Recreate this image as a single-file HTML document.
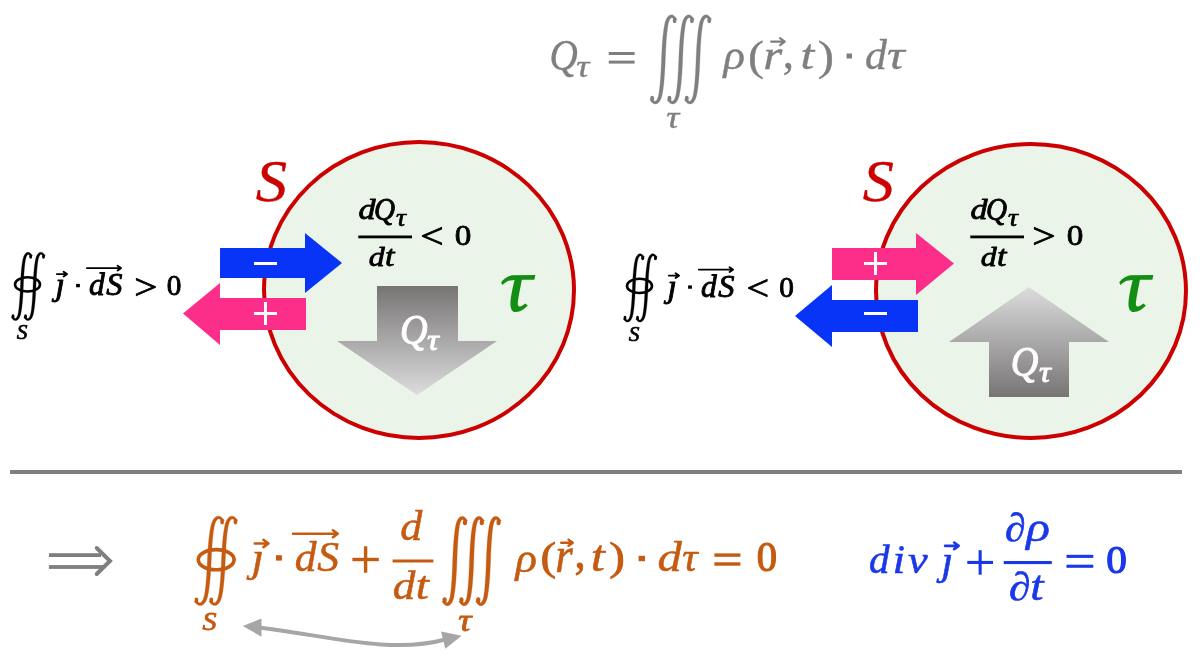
<!DOCTYPE html>
<html><head><meta charset="utf-8"><title>Charge conservation</title>
<style>
html,body{margin:0;padding:0;background:#ffffff;}
body{width:1200px;height:666px;overflow:hidden;}
svg{display:block;will-change:transform;font-family:"Liberation Serif",serif;}
</style></head><body>
<svg width="1200" height="666" viewBox="0 0 1200 666">
<rect x="0" y="0" width="1200" height="666" fill="#ffffff"/>
<text transform="matrix(0.3915 0 0 0.4350 549.52 70.25)" font-size="100" font-style="italic" font-weight="normal" fill="#7f7f7f" stroke="#7f7f7f" stroke-width="0.968" stroke-linejoin="round">Q</text>
<text transform="matrix(0.3680 0 0 0.3200 576.20 77.39)" font-size="100" font-style="italic" font-weight="normal" fill="#7f7f7f" stroke="#7f7f7f" stroke-width="1.163" stroke-linejoin="round">τ</text>
<rect x="608.75" y="52" width="25.85" height="3.00" fill="#7f7f7f"/>
<rect x="608.75" y="60.6" width="25.85" height="3.00" fill="#7f7f7f"/>
<path d="M676.95,19.23 L676.37,18.30 L675.68,17.42 L674.93,16.70 L674.23,16.02 L673.47,15.44 L672.59,15.04 L671.62,14.87 L670.62,14.95 L669.64,15.30 L668.74,15.87 L667.91,16.65 L667.17,17.62 L666.49,18.78 L665.87,20.14 L665.32,21.70 L664.84,23.48 L664.46,25.39 L664.11,27.36 L663.79,29.41 L663.50,31.53 L663.24,33.71 L662.99,35.95 L662.77,38.23 L662.57,40.55 L662.39,42.90 L662.22,45.27 L662.07,47.66 L661.93,50.04 L661.81,52.42 L661.70,54.78 L661.59,57.12 L661.50,59.42 L661.41,61.72 L661.31,64.05 L661.21,66.40 L661.10,68.76 L660.98,71.13 L660.85,73.49 L660.70,75.84 L660.55,78.16 L660.38,80.46 L660.19,82.71 L659.98,84.91 L659.76,87.05 L659.51,89.12 L659.25,91.11 L658.96,93.02 L658.66,94.78 L658.28,96.27 L657.87,97.56 L657.42,98.63 L656.97,99.50 L656.52,100.16 L656.10,100.63 L655.73,100.93 L655.42,101.11 L655.14,101.19 L654.87,101.20 L654.55,101.13 L654.18,100.94 L653.81,100.57 L653.57,99.97 L653.36,99.26 L653.17,98.36 L649.85,99.77 L650.43,100.70 L651.13,101.57 L651.88,102.28 L652.59,102.94 L653.37,103.49 L654.26,103.86 L655.23,103.99 L656.22,103.88 L657.18,103.51 L658.07,102.93 L658.88,102.16 L659.63,101.21 L660.31,100.07 L660.92,98.75 L661.47,97.25 L661.96,95.52 L662.34,93.61 L662.69,91.64 L663.01,89.59 L663.30,87.47 L663.56,85.29 L663.81,83.05 L664.03,80.77 L664.23,78.45 L664.41,76.10 L664.58,73.73 L664.73,71.34 L664.87,68.96 L664.99,66.58 L665.10,64.22 L665.21,61.88 L665.30,59.58 L665.39,57.28 L665.49,54.95 L665.59,52.60 L665.70,50.24 L665.82,47.87 L665.95,45.51 L666.10,43.16 L666.25,40.84 L666.42,38.54 L666.61,36.29 L666.82,34.09 L667.04,31.95 L667.29,29.88 L667.55,27.89 L667.84,25.98 L668.14,24.21 L668.52,22.64 L668.94,21.30 L669.38,20.19 L669.84,19.31 L670.28,18.65 L670.69,18.19 L671.05,17.90 L671.34,17.74 L671.60,17.67 L671.88,17.67 L672.21,17.76 L672.59,17.98 L672.98,18.37 L673.23,19.00 L673.43,19.73 L673.63,20.64 Z" fill="#7f7f7f" stroke="#7f7f7f" stroke-width="0.3" stroke-linejoin="round"/>
<ellipse cx="674.62" cy="20.69" rx="1.90" ry="2.47" fill="#7f7f7f"/>
<ellipse cx="652.17" cy="98.31" rx="1.90" ry="2.47" fill="#7f7f7f"/>
<path d="M694.25,19.23 L693.67,18.30 L692.98,17.42 L692.23,16.70 L691.53,16.02 L690.77,15.44 L689.89,15.04 L688.92,14.87 L687.92,14.95 L686.94,15.30 L686.04,15.87 L685.21,16.65 L684.47,17.62 L683.79,18.78 L683.17,20.14 L682.62,21.70 L682.14,23.48 L681.76,25.39 L681.41,27.36 L681.09,29.41 L680.80,31.53 L680.54,33.71 L680.29,35.95 L680.07,38.23 L679.87,40.55 L679.69,42.90 L679.52,45.27 L679.37,47.66 L679.23,50.04 L679.11,52.42 L679.00,54.78 L678.89,57.12 L678.80,59.42 L678.71,61.72 L678.61,64.05 L678.51,66.40 L678.40,68.76 L678.28,71.13 L678.15,73.49 L678.00,75.84 L677.85,78.16 L677.68,80.46 L677.49,82.71 L677.28,84.91 L677.06,87.05 L676.81,89.12 L676.55,91.11 L676.26,93.02 L675.96,94.78 L675.58,96.27 L675.17,97.56 L674.72,98.63 L674.27,99.50 L673.82,100.16 L673.40,100.63 L673.03,100.93 L672.72,101.11 L672.44,101.19 L672.17,101.20 L671.85,101.13 L671.48,100.94 L671.11,100.57 L670.87,99.97 L670.66,99.26 L670.47,98.36 L667.15,99.77 L667.73,100.70 L668.43,101.57 L669.18,102.28 L669.89,102.94 L670.67,103.49 L671.56,103.86 L672.53,103.99 L673.52,103.88 L674.48,103.51 L675.37,102.93 L676.18,102.16 L676.93,101.21 L677.61,100.07 L678.22,98.75 L678.77,97.25 L679.26,95.52 L679.64,93.61 L679.99,91.64 L680.31,89.59 L680.60,87.47 L680.86,85.29 L681.11,83.05 L681.33,80.77 L681.53,78.45 L681.71,76.10 L681.88,73.73 L682.03,71.34 L682.17,68.96 L682.29,66.58 L682.40,64.22 L682.51,61.88 L682.60,59.58 L682.69,57.28 L682.79,54.95 L682.89,52.60 L683.00,50.24 L683.12,47.87 L683.25,45.51 L683.40,43.16 L683.55,40.84 L683.72,38.54 L683.91,36.29 L684.12,34.09 L684.34,31.95 L684.59,29.88 L684.85,27.89 L685.14,25.98 L685.44,24.21 L685.82,22.64 L686.24,21.30 L686.68,20.19 L687.14,19.31 L687.58,18.65 L687.99,18.19 L688.35,17.90 L688.64,17.74 L688.90,17.67 L689.18,17.67 L689.51,17.76 L689.89,17.98 L690.28,18.37 L690.53,19.00 L690.73,19.73 L690.93,20.64 Z" fill="#7f7f7f" stroke="#7f7f7f" stroke-width="0.3" stroke-linejoin="round"/>
<ellipse cx="691.92" cy="20.69" rx="1.90" ry="2.47" fill="#7f7f7f"/>
<ellipse cx="669.47" cy="98.31" rx="1.90" ry="2.47" fill="#7f7f7f"/>
<path d="M711.55,19.23 L710.97,18.30 L710.28,17.42 L709.53,16.70 L708.83,16.02 L708.07,15.44 L707.19,15.04 L706.22,14.87 L705.22,14.95 L704.24,15.30 L703.34,15.87 L702.51,16.65 L701.77,17.62 L701.09,18.78 L700.47,20.14 L699.92,21.70 L699.44,23.48 L699.06,25.39 L698.71,27.36 L698.39,29.41 L698.10,31.53 L697.84,33.71 L697.59,35.95 L697.37,38.23 L697.17,40.55 L696.99,42.90 L696.82,45.27 L696.67,47.66 L696.53,50.04 L696.41,52.42 L696.30,54.78 L696.19,57.12 L696.10,59.42 L696.01,61.72 L695.91,64.05 L695.81,66.40 L695.70,68.76 L695.58,71.13 L695.45,73.49 L695.30,75.84 L695.15,78.16 L694.98,80.46 L694.79,82.71 L694.58,84.91 L694.36,87.05 L694.11,89.12 L693.85,91.11 L693.56,93.02 L693.26,94.78 L692.88,96.27 L692.47,97.56 L692.02,98.63 L691.57,99.50 L691.12,100.16 L690.70,100.63 L690.33,100.93 L690.02,101.11 L689.74,101.19 L689.47,101.20 L689.15,101.13 L688.78,100.94 L688.41,100.57 L688.17,99.97 L687.96,99.26 L687.77,98.36 L684.45,99.77 L685.03,100.70 L685.73,101.57 L686.48,102.28 L687.19,102.94 L687.97,103.49 L688.86,103.86 L689.83,103.99 L690.82,103.88 L691.78,103.51 L692.67,102.93 L693.48,102.16 L694.23,101.21 L694.91,100.07 L695.52,98.75 L696.07,97.25 L696.56,95.52 L696.94,93.61 L697.29,91.64 L697.61,89.59 L697.90,87.47 L698.16,85.29 L698.41,83.05 L698.63,80.77 L698.83,78.45 L699.01,76.10 L699.18,73.73 L699.33,71.34 L699.47,68.96 L699.59,66.58 L699.70,64.22 L699.81,61.88 L699.90,59.58 L699.99,57.28 L700.09,54.95 L700.19,52.60 L700.30,50.24 L700.42,47.87 L700.55,45.51 L700.70,43.16 L700.85,40.84 L701.02,38.54 L701.21,36.29 L701.42,34.09 L701.64,31.95 L701.89,29.88 L702.15,27.89 L702.44,25.98 L702.74,24.21 L703.12,22.64 L703.54,21.30 L703.98,20.19 L704.44,19.31 L704.88,18.65 L705.29,18.19 L705.65,17.90 L705.94,17.74 L706.20,17.67 L706.48,17.67 L706.81,17.76 L707.19,17.98 L707.58,18.37 L707.83,19.00 L708.03,19.73 L708.23,20.64 Z" fill="#7f7f7f" stroke="#7f7f7f" stroke-width="0.3" stroke-linejoin="round"/>
<ellipse cx="709.23" cy="20.69" rx="1.90" ry="2.47" fill="#7f7f7f"/>
<ellipse cx="686.77" cy="98.31" rx="1.90" ry="2.47" fill="#7f7f7f"/>
<text transform="matrix(0.3655 0 0 0.3179 666.20 128.49)" font-size="100" font-style="italic" font-weight="normal" fill="#7f7f7f" stroke="#7f7f7f" stroke-width="1.171" stroke-linejoin="round">τ</text>
<text transform="matrix(0.4473 0 0 0.4273 723.44 69.45)" font-size="100" font-style="italic" font-weight="normal" fill="#7f7f7f" stroke="#7f7f7f" stroke-width="0.915" stroke-linejoin="round">ρ</text>
<text transform="matrix(0.4789 0 0 0.4229 748.10 69.55)" font-size="100" font-style="normal" font-weight="normal" fill="#7f7f7f" stroke="#7f7f7f" stroke-width="0.887" stroke-linejoin="round">(</text>
<text transform="matrix(0.4881 0 0 0.4245 763.19 69.40)" font-size="100" font-style="italic" font-weight="normal" fill="#7f7f7f" stroke="#7f7f7f" stroke-width="0.877" stroke-linejoin="round">r</text>
<path d="M771.10,41.62 L783.60,41.62 M780.07,38.10 L784.70,41.62 L780.07,45.15" fill="none" stroke="#7f7f7f" stroke-width="2.2" stroke-linecap="round" stroke-linejoin="round"/>
<text transform="matrix(0.4465 0 0 0.4555 782.70 68.19)" font-size="100" font-style="normal" font-weight="normal" fill="#7f7f7f" stroke="#7f7f7f" stroke-width="0.887" stroke-linejoin="round">,</text>
<text transform="matrix(0.4939 0 0 0.4295 800.56 69.38)" font-size="100" font-style="italic" font-weight="normal" fill="#7f7f7f" stroke="#7f7f7f" stroke-width="0.866" stroke-linejoin="round">t</text>
<text transform="matrix(0.4896 0 0 0.4257 817.64 69.74)" font-size="100" font-style="normal" font-weight="normal" fill="#7f7f7f" stroke="#7f7f7f" stroke-width="0.874" stroke-linejoin="round">)</text>
<rect x="846.5" y="53.5" width="5.50" height="5.00" fill="#7f7f7f"/>
<text transform="matrix(0.4363 0 0 0.4204 864.88 69.37)" font-size="100" font-style="italic" font-weight="normal" fill="#7f7f7f" stroke="#7f7f7f" stroke-width="0.934" stroke-linejoin="round">d</text>
<text transform="matrix(0.4931 0 0 0.4288 886.89 69.38)" font-size="100" font-style="italic" font-weight="normal" fill="#7f7f7f" stroke="#7f7f7f" stroke-width="0.868" stroke-linejoin="round">τ</text>
<ellipse cx="419" cy="290" rx="155" ry="148" fill="#ebf4e8" stroke="#cc0000" stroke-width="4"/>
<ellipse cx="1031" cy="291" rx="155" ry="147" fill="#ebf4e8" stroke="#cc0000" stroke-width="4"/>
<text transform="matrix(0.6248 0 0 0.5879 255.67 201.33)" font-size="100" font-style="italic" font-weight="normal" fill="#cc0000" stroke="#cc0000" stroke-width="0.660" stroke-linejoin="round">S</text>
<text transform="matrix(0.6227 0 0 0.5879 862.77 201.33)" font-size="100" font-style="italic" font-weight="normal" fill="#cc0000" stroke="#cc0000" stroke-width="0.661" stroke-linejoin="round">S</text>
<polygon points="220,248 305,248 305,233 342,263 305,293 305,278 220,278" fill="#0834f8"/>
<rect x="254" y="262" width="23.00" height="3.00" fill="#ffffff"/>
<polygon points="306,298 220,298 220,283 183,313.5 220,345 220,330 306,330" fill="#fd2d8a"/>
<rect x="254" y="312" width="23.00" height="3.00" fill="#ffffff"/>
<rect x="264" y="302" width="3.00" height="23.00" fill="#ffffff"/>
<polygon points="832,248 916,248 916,233 954,263.5 916,295 916,280 832,280" fill="#fd2d8a"/>
<rect x="864" y="262" width="23.00" height="3.00" fill="#ffffff"/>
<rect x="874" y="252" width="3.00" height="23.00" fill="#ffffff"/>
<polygon points="918,300 832,300 832,285 795,316 832,347 832,332 918,332" fill="#0834f8"/>
<rect x="864" y="312" width="23.00" height="3.00" fill="#ffffff"/>
<defs><linearGradient id="gd" x1="0" y1="0" x2="0" y2="1"><stop offset="0" stop-color="#777474"/><stop offset="1" stop-color="#dcdcdc"/></linearGradient><linearGradient id="gu" x1="0" y1="0" x2="0" y2="1"><stop offset="0" stop-color="#dcdcdc"/><stop offset="1" stop-color="#777474"/></linearGradient></defs>
<polygon points="377,286 458,286 458,341 497,341 417,395 337,341 377,341" fill="url(#gd)"/>
<polygon points="1029,287 1109,342 1069,342 1069,397 989,397 989,342 949,342" fill="url(#gu)"/>
<text transform="matrix(0.3822 0 0 0.4246 400.10 343.52)" font-size="100" font-style="italic" font-weight="normal" fill="#ffffff" stroke="#ffffff" stroke-width="2.479" stroke-linejoin="round">Q</text>
<text transform="matrix(0.3312 0 0 0.2880 427.06 350.12)" font-size="100" font-style="italic" font-weight="normal" fill="#ffffff" stroke="#ffffff" stroke-width="3.230" stroke-linejoin="round">τ</text>
<text transform="matrix(0.3822 0 0 0.4246 1010.75 375.62)" font-size="100" font-style="italic" font-weight="normal" fill="#ffffff" stroke="#ffffff" stroke-width="2.479" stroke-linejoin="round">Q</text>
<text transform="matrix(0.3312 0 0 0.2880 1039.11 382.22)" font-size="100" font-style="italic" font-weight="normal" fill="#ffffff" stroke="#ffffff" stroke-width="3.230" stroke-linejoin="round">τ</text>
<path d="M501.1,282.4 C503.5,279 507,276.5 511.8,275.2 L535.3,275 L534.3,279.7 L521.8,279.7 C520.5,287 518.5,296 517.8,302.5 C517.6,305.5 518.5,306.8 519.6,306.6 C521.5,306.3 523.5,304.8 525.3,303.5 L527.7,305.6 C525,308.8 520,312.3 515.3,312.1 C511.8,311.9 510.2,308 510.4,303.2 C510.6,297 512.8,287 514.6,280 L508.4,280.7 C506.5,281.5 504.8,283 502.5,284.9 Z" fill="#128e12"/>
<path d="M501.1,282.4 C503.5,279 507,276.5 511.8,275.2 L535.3,275 L534.3,279.7 L521.8,279.7 C520.5,287 518.5,296 517.8,302.5 C517.6,305.5 518.5,306.8 519.6,306.6 C521.5,306.3 523.5,304.8 525.3,303.5 L527.7,305.6 C525,308.8 520,312.3 515.3,312.1 C511.8,311.9 510.2,308 510.4,303.2 C510.6,297 512.8,287 514.6,280 L508.4,280.7 C506.5,281.5 504.8,283 502.5,284.9 Z" fill="#128e12" transform="translate(618.1 0)"/>
<text transform="matrix(0.3405 0 0 0.2961 358.48 219.27)" font-size="100" font-style="italic" font-weight="normal" fill="#000000" stroke="#000000" stroke-width="2.670" stroke-linejoin="round">d</text>
<text transform="matrix(0.2910 0 0 0.3233 374.06 220.13)" font-size="100" font-style="italic" font-weight="normal" fill="#000000" stroke="#000000" stroke-width="2.767" stroke-linejoin="round">Q</text>
<text transform="matrix(0.2797 0 0 0.2432 395.96 226.41)" font-size="100" font-style="italic" font-weight="normal" fill="#000000" stroke="#000000" stroke-width="2.677" stroke-linejoin="round">τ</text>
<rect x="358.3" y="235.5" width="53.70" height="2.80" fill="#000000"/>
<text transform="matrix(0.3187 0 0 0.2777 368.66 265.89)" font-size="100" font-style="italic" font-weight="normal" fill="#000000" stroke="#000000" stroke-width="2.850" stroke-linejoin="round">d</text>
<text transform="matrix(0.3423 0 0 0.2977 385.05 265.88)" font-size="100" font-style="italic" font-weight="normal" fill="#000000" stroke="#000000" stroke-width="2.656" stroke-linejoin="round">t</text>
<text transform="matrix(0.4148 0 0 0.3628 420.18 248.24)" font-size="100" font-style="normal" font-weight="normal" fill="#000000" stroke="#000000" stroke-width="2.315" stroke-linejoin="round">&lt;</text>
<text transform="matrix(0.3315 0 0 0.3016 454.66 244.98)" font-size="100" font-style="normal" font-weight="normal" fill="#000000" stroke="#000000" stroke-width="2.685" stroke-linejoin="round">0</text>
<text transform="matrix(0.3405 0 0 0.2961 970.48 219.27)" font-size="100" font-style="italic" font-weight="normal" fill="#000000" stroke="#000000" stroke-width="2.670" stroke-linejoin="round">d</text>
<text transform="matrix(0.2910 0 0 0.3233 986.06 220.13)" font-size="100" font-style="italic" font-weight="normal" fill="#000000" stroke="#000000" stroke-width="2.767" stroke-linejoin="round">Q</text>
<text transform="matrix(0.2797 0 0 0.2432 1007.96 226.41)" font-size="100" font-style="italic" font-weight="normal" fill="#000000" stroke="#000000" stroke-width="2.677" stroke-linejoin="round">τ</text>
<rect x="970.3" y="235.5" width="53.70" height="2.80" fill="#000000"/>
<text transform="matrix(0.3187 0 0 0.2777 980.66 265.89)" font-size="100" font-style="italic" font-weight="normal" fill="#000000" stroke="#000000" stroke-width="2.850" stroke-linejoin="round">d</text>
<text transform="matrix(0.3423 0 0 0.2977 997.05 265.88)" font-size="100" font-style="italic" font-weight="normal" fill="#000000" stroke="#000000" stroke-width="2.656" stroke-linejoin="round">t</text>
<text transform="matrix(0.4148 0 0 0.3628 1032.14 248.24)" font-size="100" font-style="normal" font-weight="normal" fill="#000000" stroke="#000000" stroke-width="2.315" stroke-linejoin="round">&gt;</text>
<text transform="matrix(0.3315 0 0 0.3016 1066.66 244.98)" font-size="100" font-style="normal" font-weight="normal" fill="#000000" stroke="#000000" stroke-width="2.685" stroke-linejoin="round">0</text>
<path d="M32.46,255.61 L32.00,254.90 L31.47,254.23 L30.88,253.68 L30.34,253.16 L29.74,252.72 L29.06,252.41 L28.31,252.28 L27.54,252.34 L26.78,252.60 L26.08,253.04 L25.43,253.64 L24.85,254.38 L24.31,255.27 L23.83,256.31 L23.40,257.51 L23.02,258.88 L22.72,260.34 L22.45,261.85 L22.20,263.42 L21.97,265.05 L21.76,266.72 L21.57,268.44 L21.40,270.19 L21.24,271.97 L21.09,273.77 L20.96,275.59 L20.85,277.42 L20.74,279.25 L20.64,281.07 L20.55,282.88 L20.47,284.67 L20.40,286.44 L20.33,288.20 L20.25,289.99 L20.17,291.79 L20.08,293.60 L19.99,295.42 L19.89,297.23 L19.77,299.03 L19.65,300.81 L19.51,302.57 L19.37,304.29 L19.20,305.98 L19.03,307.62 L18.84,309.21 L18.63,310.73 L18.40,312.19 L18.16,313.55 L17.87,314.69 L17.54,315.68 L17.19,316.50 L16.83,317.16 L16.48,317.67 L16.15,318.03 L15.85,318.27 L15.59,318.41 L15.36,318.47 L15.13,318.48 L14.87,318.42 L14.58,318.27 L14.28,317.99 L14.09,317.53 L13.92,316.98 L13.77,316.29 L11.24,317.39 L11.70,318.10 L12.24,318.77 L12.83,319.31 L13.38,319.81 L13.99,320.23 L14.68,320.51 L15.43,320.61 L16.19,320.52 L16.93,320.25 L17.63,319.81 L18.26,319.22 L18.85,318.49 L19.38,317.62 L19.86,316.61 L20.30,315.45 L20.68,314.13 L20.98,312.66 L21.25,311.15 L21.50,309.58 L21.73,307.95 L21.94,306.28 L22.13,304.56 L22.30,302.81 L22.46,301.03 L22.61,299.23 L22.74,297.41 L22.85,295.58 L22.96,293.75 L23.06,291.93 L23.15,290.12 L23.23,288.33 L23.30,286.56 L23.37,284.80 L23.45,283.01 L23.53,281.21 L23.62,279.40 L23.71,277.58 L23.81,275.77 L23.93,273.97 L24.05,272.19 L24.19,270.43 L24.33,268.71 L24.50,267.02 L24.67,265.38 L24.86,263.79 L25.07,262.27 L25.30,260.81 L25.54,259.45 L25.84,258.24 L26.17,257.21 L26.51,256.37 L26.87,255.69 L27.22,255.18 L27.55,254.83 L27.83,254.60 L28.08,254.48 L28.30,254.42 L28.53,254.42 L28.79,254.50 L29.10,254.66 L29.41,254.97 L29.61,255.45 L29.77,256.01 L29.93,256.71 Z" fill="#000000" stroke="#000000" stroke-width="0.3" stroke-linejoin="round"/>
<ellipse cx="30.69" cy="256.74" rx="1.45" ry="1.89" fill="#000000"/>
<ellipse cx="13.01" cy="316.26" rx="1.45" ry="1.89" fill="#000000"/>
<path d="M45.26,255.61 L44.80,254.89 L44.25,254.22 L43.66,253.67 L43.11,253.15 L42.50,252.71 L41.82,252.41 L41.07,252.28 L40.29,252.34 L39.53,252.60 L38.82,253.04 L38.16,253.63 L37.57,254.37 L37.03,255.26 L36.53,256.30 L36.10,257.50 L35.71,258.87 L35.41,260.34 L35.13,261.85 L34.88,263.42 L34.65,265.05 L34.43,266.72 L34.24,268.44 L34.06,270.19 L33.90,271.97 L33.76,273.77 L33.62,275.59 L33.50,277.42 L33.39,279.24 L33.30,281.07 L33.21,282.88 L33.13,284.67 L33.05,286.44 L32.98,288.20 L32.90,289.99 L32.82,291.79 L32.73,293.60 L32.63,295.42 L32.53,297.23 L32.41,299.03 L32.29,300.81 L32.15,302.56 L32.00,304.29 L31.83,305.98 L31.65,307.62 L31.46,309.20 L31.25,310.73 L31.02,312.19 L30.77,313.54 L30.47,314.69 L30.14,315.67 L29.79,316.49 L29.42,317.15 L29.07,317.66 L28.73,318.03 L28.42,318.27 L28.15,318.41 L27.91,318.47 L27.67,318.48 L27.40,318.42 L27.09,318.27 L26.79,317.98 L26.59,317.52 L26.42,316.98 L26.26,316.28 L23.75,317.40 L24.21,318.11 L24.75,318.77 L25.35,319.31 L25.91,319.82 L26.53,320.24 L27.22,320.51 L27.97,320.61 L28.74,320.52 L29.49,320.25 L30.19,319.81 L30.84,319.22 L31.43,318.50 L31.97,317.63 L32.46,316.61 L32.90,315.45 L33.29,314.13 L33.59,312.66 L33.87,311.15 L34.12,309.58 L34.35,307.95 L34.57,306.28 L34.76,304.56 L34.94,302.81 L35.10,301.03 L35.24,299.23 L35.38,297.41 L35.50,295.58 L35.61,293.76 L35.70,291.93 L35.79,290.12 L35.87,288.33 L35.95,286.56 L36.02,284.80 L36.10,283.01 L36.18,281.21 L36.27,279.40 L36.37,277.58 L36.47,275.77 L36.59,273.97 L36.71,272.19 L36.85,270.44 L37.00,268.71 L37.17,267.02 L37.35,265.38 L37.54,263.80 L37.75,262.27 L37.98,260.81 L38.23,259.45 L38.53,258.25 L38.86,257.22 L39.22,256.37 L39.58,255.70 L39.94,255.19 L40.27,254.83 L40.56,254.60 L40.82,254.48 L41.05,254.42 L41.29,254.42 L41.57,254.50 L41.89,254.67 L42.20,254.98 L42.40,255.46 L42.57,256.02 L42.73,256.72 Z" fill="#000000" stroke="#000000" stroke-width="0.3" stroke-linejoin="round"/>
<ellipse cx="43.49" cy="256.74" rx="1.45" ry="1.89" fill="#000000"/>
<ellipse cx="25.51" cy="316.26" rx="1.45" ry="1.89" fill="#000000"/>
<ellipse cx="27.5" cy="284.4" rx="12.5" ry="7.1" fill="none" stroke="#000000" stroke-width="2.6"/>
<text transform="matrix(0.2139 0 0 0.2039 16.80 339.05)" font-size="100" font-style="italic" font-weight="normal" fill="#000000" stroke="#000000" stroke-width="3.351" stroke-linejoin="round">S</text>
<text transform="matrix(0.3353 0 0 0.3155 55.44 295.43)" font-size="100" font-style="italic" font-weight="normal" fill="#000000" stroke="#000000" stroke-width="2.766" stroke-linejoin="round">ȷ</text>
<path d="M56.85,274.12 L66.00,274.12 M63.58,271.70 L66.95,274.12 L63.58,276.55" fill="none" stroke="#000000" stroke-width="1.9" stroke-linecap="round" stroke-linejoin="round"/>
<rect x="76.1" y="283.9" width="3.80" height="3.35" fill="#000000"/>
<text transform="matrix(0.3156 0 0 0.3125 89.09 295.13)" font-size="100" font-style="italic" font-weight="normal" fill="#000000" stroke="#000000" stroke-width="2.866" stroke-linejoin="round">d</text>
<text transform="matrix(0.3240 0 0 0.3215 106.17 295.49)" font-size="100" font-style="italic" font-weight="normal" fill="#000000" stroke="#000000" stroke-width="2.788" stroke-linejoin="round">S</text>
<path d="M86.85,268.12 L120.00,268.12 M117.58,265.70 L120.95,268.12 L117.58,270.55" fill="none" stroke="#000000" stroke-width="1.9" stroke-linecap="round" stroke-linejoin="round"/>
<text transform="matrix(0.4105 0 0 0.3648 134.17 298.86)" font-size="100" font-style="normal" font-weight="normal" fill="#000000" stroke="#000000" stroke-width="2.322" stroke-linejoin="round">&gt;</text>
<text transform="matrix(0.2926 0 0 0.2979 166.84 295.26)" font-size="100" font-style="normal" font-weight="normal" fill="#000000" stroke="#000000" stroke-width="3.049" stroke-linejoin="round">0</text>
<path d="M644.46,257.11 L644.00,256.40 L643.47,255.73 L642.88,255.18 L642.34,254.66 L641.74,254.22 L641.06,253.91 L640.31,253.78 L639.54,253.84 L638.78,254.10 L638.08,254.54 L637.43,255.14 L636.85,255.88 L636.31,256.77 L635.83,257.81 L635.40,259.01 L635.02,260.38 L634.72,261.84 L634.45,263.35 L634.20,264.92 L633.97,266.55 L633.76,268.22 L633.57,269.94 L633.40,271.69 L633.24,273.47 L633.09,275.27 L632.96,277.09 L632.85,278.92 L632.74,280.75 L632.64,282.57 L632.55,284.38 L632.47,286.17 L632.40,287.94 L632.33,289.70 L632.25,291.49 L632.17,293.29 L632.08,295.10 L631.99,296.92 L631.89,298.73 L631.77,300.53 L631.65,302.31 L631.51,304.07 L631.37,305.79 L631.20,307.48 L631.03,309.12 L630.84,310.71 L630.63,312.23 L630.40,313.69 L630.16,315.05 L629.87,316.19 L629.54,317.18 L629.19,318.00 L628.83,318.66 L628.48,319.17 L628.15,319.53 L627.85,319.77 L627.59,319.91 L627.36,319.97 L627.13,319.98 L626.87,319.92 L626.58,319.77 L626.28,319.49 L626.09,319.03 L625.92,318.48 L625.77,317.79 L623.24,318.89 L623.70,319.60 L624.24,320.27 L624.83,320.81 L625.38,321.31 L625.99,321.73 L626.68,322.01 L627.43,322.11 L628.19,322.02 L628.93,321.75 L629.63,321.31 L630.26,320.72 L630.85,319.99 L631.38,319.12 L631.86,318.11 L632.30,316.95 L632.68,315.63 L632.98,314.16 L633.25,312.65 L633.50,311.08 L633.73,309.45 L633.94,307.78 L634.13,306.06 L634.30,304.31 L634.46,302.53 L634.61,300.73 L634.74,298.91 L634.85,297.08 L634.96,295.25 L635.06,293.43 L635.15,291.62 L635.23,289.83 L635.30,288.06 L635.37,286.30 L635.45,284.51 L635.53,282.71 L635.62,280.90 L635.71,279.08 L635.81,277.27 L635.93,275.47 L636.05,273.69 L636.19,271.93 L636.33,270.21 L636.50,268.52 L636.67,266.88 L636.86,265.29 L637.07,263.77 L637.30,262.31 L637.54,260.95 L637.84,259.74 L638.17,258.71 L638.51,257.87 L638.87,257.19 L639.22,256.68 L639.55,256.33 L639.83,256.10 L640.08,255.98 L640.30,255.92 L640.53,255.92 L640.79,256.00 L641.10,256.16 L641.41,256.47 L641.61,256.95 L641.77,257.51 L641.93,258.21 Z" fill="#000000" stroke="#000000" stroke-width="0.3" stroke-linejoin="round"/>
<ellipse cx="642.69" cy="258.24" rx="1.45" ry="1.89" fill="#000000"/>
<ellipse cx="625.01" cy="317.76" rx="1.45" ry="1.89" fill="#000000"/>
<path d="M657.26,257.11 L656.80,256.39 L656.25,255.72 L655.66,255.17 L655.11,254.65 L654.50,254.21 L653.82,253.91 L653.07,253.78 L652.29,253.84 L651.53,254.10 L650.82,254.54 L650.16,255.13 L649.57,255.87 L649.03,256.76 L648.53,257.80 L648.10,259.00 L647.71,260.37 L647.41,261.84 L647.13,263.35 L646.88,264.92 L646.65,266.55 L646.43,268.22 L646.24,269.94 L646.06,271.69 L645.90,273.47 L645.76,275.27 L645.62,277.09 L645.50,278.92 L645.39,280.74 L645.30,282.57 L645.21,284.38 L645.13,286.17 L645.05,287.94 L644.98,289.70 L644.90,291.49 L644.82,293.29 L644.73,295.10 L644.63,296.92 L644.53,298.73 L644.41,300.53 L644.29,302.31 L644.15,304.06 L644.00,305.79 L643.83,307.48 L643.65,309.12 L643.46,310.70 L643.25,312.23 L643.02,313.69 L642.77,315.04 L642.47,316.19 L642.14,317.17 L641.79,317.99 L641.42,318.65 L641.07,319.16 L640.73,319.53 L640.42,319.77 L640.15,319.91 L639.91,319.97 L639.67,319.98 L639.40,319.92 L639.09,319.77 L638.79,319.48 L638.59,319.02 L638.42,318.48 L638.26,317.78 L635.75,318.90 L636.21,319.61 L636.75,320.27 L637.35,320.81 L637.91,321.32 L638.53,321.74 L639.22,322.01 L639.97,322.11 L640.74,322.02 L641.49,321.75 L642.19,321.31 L642.84,320.72 L643.43,320.00 L643.97,319.13 L644.46,318.11 L644.90,316.95 L645.29,315.63 L645.59,314.16 L645.87,312.65 L646.12,311.08 L646.35,309.45 L646.57,307.78 L646.76,306.06 L646.94,304.31 L647.10,302.53 L647.24,300.73 L647.38,298.91 L647.50,297.08 L647.61,295.26 L647.70,293.43 L647.79,291.62 L647.87,289.83 L647.95,288.06 L648.02,286.30 L648.10,284.51 L648.18,282.71 L648.27,280.90 L648.37,279.08 L648.47,277.27 L648.59,275.47 L648.71,273.69 L648.85,271.94 L649.00,270.21 L649.17,268.52 L649.35,266.88 L649.54,265.30 L649.75,263.77 L649.98,262.31 L650.23,260.95 L650.53,259.75 L650.86,258.72 L651.22,257.87 L651.58,257.20 L651.94,256.69 L652.27,256.33 L652.56,256.10 L652.82,255.98 L653.05,255.92 L653.29,255.92 L653.57,256.00 L653.89,256.17 L654.20,256.48 L654.40,256.96 L654.57,257.52 L654.73,258.22 Z" fill="#000000" stroke="#000000" stroke-width="0.3" stroke-linejoin="round"/>
<ellipse cx="655.49" cy="258.24" rx="1.45" ry="1.89" fill="#000000"/>
<ellipse cx="637.51" cy="317.76" rx="1.45" ry="1.89" fill="#000000"/>
<ellipse cx="639.5" cy="285.9" rx="12.5" ry="7.1" fill="none" stroke="#000000" stroke-width="2.6"/>
<text transform="matrix(0.2139 0 0 0.2039 628.80 340.55)" font-size="100" font-style="italic" font-weight="normal" fill="#000000" stroke="#000000" stroke-width="3.351" stroke-linejoin="round">S</text>
<text transform="matrix(0.3353 0 0 0.3155 667.44 296.93)" font-size="100" font-style="italic" font-weight="normal" fill="#000000" stroke="#000000" stroke-width="2.766" stroke-linejoin="round">ȷ</text>
<path d="M668.85,275.62 L678.00,275.62 M675.57,273.20 L678.95,275.62 L675.57,278.05" fill="none" stroke="#000000" stroke-width="1.9" stroke-linecap="round" stroke-linejoin="round"/>
<rect x="688.1" y="285.4" width="3.80" height="3.35" fill="#000000"/>
<text transform="matrix(0.3156 0 0 0.3125 701.09 296.63)" font-size="100" font-style="italic" font-weight="normal" fill="#000000" stroke="#000000" stroke-width="2.866" stroke-linejoin="round">d</text>
<text transform="matrix(0.3240 0 0 0.3215 718.17 296.99)" font-size="100" font-style="italic" font-weight="normal" fill="#000000" stroke="#000000" stroke-width="2.788" stroke-linejoin="round">S</text>
<path d="M698.85,269.62 L732.00,269.62 M729.57,267.20 L732.95,269.62 L729.57,272.05" fill="none" stroke="#000000" stroke-width="1.9" stroke-linecap="round" stroke-linejoin="round"/>
<text transform="matrix(0.3997 0 0 0.3648 746.46 300.36)" font-size="100" font-style="normal" font-weight="normal" fill="#000000" stroke="#000000" stroke-width="2.354" stroke-linejoin="round">&lt;</text>
<text transform="matrix(0.2926 0 0 0.2949 779.34 296.76)" font-size="100" font-style="normal" font-weight="normal" fill="#000000" stroke="#000000" stroke-width="3.064" stroke-linejoin="round">0</text>
<rect x="10" y="470" width="1172.00" height="4.00" fill="#7f7f7f"/>
<rect x="48.9" y="553.2" width="52.10" height="3.80" fill="#7f7f7f"/>
<rect x="48.9" y="565.1" width="54.60" height="3.80" fill="#7f7f7f"/>
<path d="M96.7,548 L110,561 L96.7,574" fill="none" stroke="#7f7f7f" stroke-width="4" stroke-linecap="round" stroke-linejoin="miter"/>
<path d="M224.42,520.47 L223.78,519.54 L223.02,518.66 L222.20,517.95 L221.42,517.28 L220.58,516.71 L219.64,516.33 L218.63,516.17 L217.58,516.24 L216.54,516.56 L215.56,517.12 L214.64,517.89 L213.80,518.86 L213.03,520.02 L212.34,521.39 L211.71,522.97 L211.16,524.77 L210.73,526.69 L210.34,528.67 L209.99,530.72 L209.66,532.85 L209.36,535.05 L209.08,537.29 L208.83,539.59 L208.61,541.92 L208.40,544.28 L208.21,546.66 L208.04,549.05 L207.89,551.45 L207.75,553.83 L207.62,556.20 L207.51,558.55 L207.40,560.86 L207.30,563.17 L207.19,565.51 L207.07,567.86 L206.94,570.23 L206.81,572.61 L206.66,574.98 L206.49,577.33 L206.31,579.66 L206.12,581.96 L205.90,584.21 L205.67,586.42 L205.41,588.56 L205.13,590.64 L204.83,592.64 L204.50,594.54 L204.15,596.31 L203.73,597.80 L203.26,599.08 L202.75,600.15 L202.24,601.01 L201.72,601.68 L201.22,602.17 L200.76,602.50 L200.34,602.69 L199.94,602.79 L199.55,602.79 L199.13,602.70 L198.67,602.49 L198.23,602.11 L197.93,601.49 L197.68,600.78 L197.44,599.87 L194.18,601.43 L194.82,602.36 L195.59,603.23 L196.42,603.93 L197.21,604.58 L198.06,605.12 L199.01,605.46 L200.02,605.59 L201.06,605.49 L202.08,605.14 L203.05,604.58 L203.95,603.82 L204.79,602.87 L205.56,601.73 L206.25,600.40 L206.88,598.88 L207.43,597.14 L207.87,595.21 L208.26,593.23 L208.61,591.18 L208.94,589.05 L209.24,586.85 L209.52,584.61 L209.77,582.31 L209.99,579.98 L210.20,577.62 L210.39,575.24 L210.56,572.85 L210.71,570.45 L210.85,568.07 L210.98,565.70 L211.09,563.35 L211.20,561.04 L211.30,558.73 L211.41,556.39 L211.53,554.04 L211.66,551.67 L211.79,549.29 L211.94,546.92 L212.11,544.57 L212.29,542.24 L212.48,539.94 L212.70,537.69 L212.93,535.48 L213.19,533.34 L213.47,531.26 L213.77,529.26 L214.10,527.36 L214.45,525.58 L214.88,524.01 L215.35,522.68 L215.86,521.57 L216.37,520.69 L216.88,520.02 L217.37,519.55 L217.82,519.23 L218.22,519.05 L218.61,518.97 L219.00,518.98 L219.43,519.09 L219.90,519.33 L220.35,519.74 L220.66,520.37 L220.92,521.11 L221.16,522.02 Z" fill="#c55a11" stroke="#c55a11" stroke-width="0.3" stroke-linejoin="round"/>
<ellipse cx="222.12" cy="522.01" rx="1.90" ry="2.47" fill="#c55a11"/>
<ellipse cx="196.47" cy="599.89" rx="1.90" ry="2.47" fill="#c55a11"/>
<path d="M237.74,520.50 L237.12,519.57 L236.40,518.69 L235.61,517.97 L234.87,517.30 L234.06,516.73 L233.15,516.34 L232.16,516.17 L231.13,516.25 L230.12,516.58 L229.18,517.14 L228.31,517.92 L227.51,518.89 L226.78,520.06 L226.12,521.42 L225.53,522.99 L225.01,524.79 L224.61,526.71 L224.24,528.68 L223.90,530.74 L223.59,532.87 L223.30,535.06 L223.04,537.31 L222.81,539.60 L222.59,541.93 L222.40,544.29 L222.22,546.67 L222.06,549.06 L221.91,551.45 L221.78,553.84 L221.66,556.21 L221.55,558.56 L221.45,560.87 L221.35,563.18 L221.25,565.51 L221.14,567.87 L221.02,570.24 L220.89,572.61 L220.75,574.98 L220.59,577.34 L220.43,579.67 L220.24,581.97 L220.04,584.22 L219.82,586.43 L219.58,588.58 L219.31,590.65 L219.03,592.65 L218.72,594.56 L218.39,596.33 L217.99,597.82 L217.55,599.11 L217.07,600.18 L216.58,601.05 L216.10,601.71 L215.64,602.19 L215.22,602.51 L214.85,602.70 L214.51,602.79 L214.17,602.80 L213.80,602.71 L213.38,602.51 L212.97,602.14 L212.70,601.53 L212.47,600.82 L212.25,599.91 L208.97,601.40 L209.58,602.33 L210.31,603.20 L211.11,603.91 L211.86,604.56 L212.68,605.10 L213.60,605.46 L214.59,605.59 L215.61,605.48 L216.60,605.13 L217.53,604.56 L218.39,603.79 L219.19,602.84 L219.91,601.70 L220.57,600.37 L221.16,598.85 L221.68,597.12 L222.09,595.19 L222.46,593.22 L222.80,591.16 L223.11,589.03 L223.40,586.84 L223.66,584.59 L223.89,582.30 L224.11,579.97 L224.30,577.61 L224.48,575.23 L224.64,572.84 L224.79,570.45 L224.92,568.06 L225.04,565.69 L225.15,563.34 L225.25,561.03 L225.35,558.72 L225.45,556.39 L225.56,554.03 L225.68,551.66 L225.81,549.29 L225.95,546.92 L226.11,544.56 L226.27,542.23 L226.46,539.93 L226.66,537.68 L226.88,535.47 L227.12,533.32 L227.39,531.25 L227.67,529.25 L227.98,527.34 L228.31,525.56 L228.71,523.99 L229.16,522.65 L229.64,521.54 L230.12,520.66 L230.60,519.99 L231.05,519.52 L231.46,519.22 L231.81,519.05 L232.14,518.97 L232.48,518.98 L232.86,519.08 L233.29,519.31 L233.71,519.71 L233.99,520.34 L234.22,521.07 L234.44,521.99 Z" fill="#c55a11" stroke="#c55a11" stroke-width="0.3" stroke-linejoin="round"/>
<ellipse cx="235.43" cy="522.01" rx="1.90" ry="2.47" fill="#c55a11"/>
<ellipse cx="211.28" cy="599.89" rx="1.90" ry="2.47" fill="#c55a11"/>
<ellipse cx="216.2" cy="559.7" rx="17.9" ry="10.1" fill="none" stroke="#c55a11" stroke-width="3.6"/>
<text transform="matrix(0.2807 0 0 0.2441 202.39 630.11)" font-size="100" font-style="italic" font-weight="normal" fill="#c55a11" stroke="#c55a11" stroke-width="3.430" stroke-linejoin="round">S</text>
<text transform="matrix(0.4576 0 0 0.4279 251.47 571.02)" font-size="100" font-style="italic" font-weight="normal" fill="#c55a11" stroke="#c55a11" stroke-width="1.242" stroke-linejoin="round">ȷ</text>
<path d="M254.80,543.45 L267.10,543.45 M263.45,539.80 L268.40,543.45 L263.45,547.10" fill="none" stroke="#c55a11" stroke-width="2.6" stroke-linecap="round" stroke-linejoin="round"/>
<rect x="276" y="555.2" width="5.90" height="5.40" fill="#c55a11"/>
<text transform="matrix(0.4352 0 0 0.4140 294.86 571.10)" font-size="100" font-style="italic" font-weight="normal" fill="#c55a11" stroke="#c55a11" stroke-width="1.295" stroke-linejoin="round">d</text>
<text transform="matrix(0.4352 0 0 0.4205 317.26 571.11)" font-size="100" font-style="italic" font-weight="normal" fill="#c55a11" stroke="#c55a11" stroke-width="1.286" stroke-linejoin="round">S</text>
<path d="M293.10,533.75 L336.40,533.75 M332.95,530.30 L337.70,533.75 L332.95,537.20" fill="none" stroke="#c55a11" stroke-width="2.6" stroke-linecap="round" stroke-linejoin="round"/>
<rect x="352.4" y="557.8" width="26.40" height="3.40" fill="#c55a11"/>
<rect x="363.9" y="546.3" width="3.40" height="26.40" fill="#c55a11"/>
<text transform="matrix(0.4416 0 0 0.4268 400.14 539.79)" font-size="100" font-style="italic" font-weight="normal" fill="#c55a11" stroke="#c55a11" stroke-width="1.267" stroke-linejoin="round">d</text>
<rect x="392.6" y="559.5" width="40.80" height="3.00" fill="#c55a11"/>
<text transform="matrix(0.4516 0 0 0.3927 392.82 598.52)" font-size="100" font-style="italic" font-weight="normal" fill="#c55a11" stroke="#c55a11" stroke-width="1.303" stroke-linejoin="round">d</text>
<text transform="matrix(0.4708 0 0 0.4094 415.80 598.53)" font-size="100" font-style="italic" font-weight="normal" fill="#c55a11" stroke="#c55a11" stroke-width="1.250" stroke-linejoin="round">t</text>
<path d="M467.57,520.87 L467.00,519.94 L466.33,519.05 L465.60,518.32 L464.94,517.62 L464.20,517.01 L463.33,516.57 L462.35,516.38 L461.32,516.47 L460.34,516.85 L459.46,517.46 L458.68,518.26 L457.97,519.25 L457.34,520.42 L456.76,521.78 L456.25,523.35 L455.80,525.13 L455.45,527.05 L455.13,529.01 L454.83,531.06 L454.56,533.18 L454.31,535.36 L454.09,537.60 L453.88,539.88 L453.69,542.21 L453.52,544.56 L453.37,546.93 L453.23,549.31 L453.10,551.69 L452.98,554.07 L452.88,556.43 L452.79,558.77 L452.70,561.07 L452.62,563.37 L452.53,565.70 L452.44,568.05 L452.34,570.41 L452.23,572.78 L452.11,575.14 L451.98,577.48 L451.84,579.81 L451.68,582.10 L451.51,584.35 L451.33,586.55 L451.12,588.69 L450.90,590.76 L450.66,592.75 L450.40,594.65 L450.13,596.42 L449.79,597.91 L449.42,599.19 L449.02,600.25 L448.62,601.10 L448.22,601.75 L447.87,602.20 L447.58,602.47 L447.36,602.61 L447.21,602.68 L447.06,602.71 L446.84,602.67 L446.53,602.51 L446.22,602.17 L446.04,601.58 L445.89,600.88 L445.75,599.98 L442.03,601.43 L442.60,602.36 L443.28,603.24 L444.01,603.96 L444.69,604.65 L445.44,605.23 L446.33,605.63 L447.32,605.78 L448.33,605.65 L449.28,605.26 L450.15,604.65 L450.92,603.85 L451.62,602.88 L452.26,601.73 L452.83,600.41 L453.34,598.90 L453.80,597.17 L454.15,595.25 L454.47,593.29 L454.77,591.24 L455.04,589.12 L455.29,586.94 L455.51,584.70 L455.72,582.42 L455.91,580.09 L456.08,577.74 L456.23,575.37 L456.37,572.99 L456.50,570.61 L456.62,568.23 L456.72,565.87 L456.81,563.53 L456.90,561.23 L456.98,558.93 L457.07,556.60 L457.16,554.25 L457.26,551.89 L457.37,549.52 L457.49,547.16 L457.62,544.82 L457.76,542.49 L457.92,540.20 L458.09,537.95 L458.27,535.75 L458.48,533.61 L458.70,531.54 L458.94,529.55 L459.20,527.65 L459.47,525.87 L459.81,524.30 L460.19,522.97 L460.59,521.87 L460.99,521.00 L461.38,520.36 L461.73,519.92 L462.00,519.67 L462.19,519.54 L462.32,519.48 L462.48,519.46 L462.71,519.52 L463.04,519.70 L463.37,520.08 L463.55,520.69 L463.71,521.41 L463.85,522.31 Z" fill="#c55a11" stroke="#c55a11" stroke-width="0.3" stroke-linejoin="round"/>
<ellipse cx="464.98" cy="522.43" rx="2.10" ry="2.73" fill="#c55a11"/>
<ellipse cx="444.62" cy="599.87" rx="2.10" ry="2.73" fill="#c55a11"/>
<path d="M484.37,520.87 L483.80,519.94 L483.13,519.05 L482.40,518.32 L481.74,517.62 L481.00,517.01 L480.13,516.57 L479.15,516.38 L478.12,516.47 L477.14,516.85 L476.26,517.46 L475.48,518.26 L474.77,519.25 L474.14,520.42 L473.56,521.78 L473.05,523.35 L472.60,525.13 L472.25,527.05 L471.93,529.01 L471.63,531.06 L471.36,533.18 L471.11,535.36 L470.89,537.60 L470.68,539.88 L470.49,542.21 L470.32,544.56 L470.17,546.93 L470.03,549.31 L469.90,551.69 L469.78,554.07 L469.68,556.43 L469.59,558.77 L469.50,561.07 L469.42,563.37 L469.33,565.70 L469.24,568.05 L469.14,570.41 L469.03,572.78 L468.91,575.14 L468.78,577.48 L468.64,579.81 L468.48,582.10 L468.31,584.35 L468.13,586.55 L467.92,588.69 L467.70,590.76 L467.46,592.75 L467.20,594.65 L466.93,596.42 L466.59,597.91 L466.22,599.19 L465.82,600.25 L465.42,601.10 L465.02,601.75 L464.67,602.20 L464.38,602.47 L464.16,602.61 L464.01,602.68 L463.86,602.71 L463.64,602.67 L463.33,602.51 L463.02,602.17 L462.84,601.58 L462.69,600.88 L462.55,599.98 L458.83,601.43 L459.40,602.36 L460.08,603.24 L460.81,603.96 L461.49,604.65 L462.24,605.23 L463.13,605.63 L464.12,605.78 L465.13,605.65 L466.08,605.26 L466.95,604.65 L467.72,603.85 L468.42,602.88 L469.06,601.73 L469.63,600.41 L470.14,598.90 L470.60,597.17 L470.95,595.25 L471.27,593.29 L471.57,591.24 L471.84,589.12 L472.09,586.94 L472.31,584.70 L472.52,582.42 L472.71,580.09 L472.88,577.74 L473.03,575.37 L473.17,572.99 L473.30,570.61 L473.42,568.23 L473.52,565.87 L473.61,563.53 L473.70,561.23 L473.78,558.93 L473.87,556.60 L473.96,554.25 L474.06,551.89 L474.17,549.52 L474.29,547.16 L474.42,544.82 L474.56,542.49 L474.72,540.20 L474.89,537.95 L475.07,535.75 L475.28,533.61 L475.50,531.54 L475.74,529.55 L476.00,527.65 L476.27,525.87 L476.61,524.30 L476.99,522.97 L477.39,521.87 L477.79,521.00 L478.18,520.36 L478.53,519.92 L478.80,519.67 L478.99,519.54 L479.12,519.48 L479.28,519.46 L479.51,519.52 L479.84,519.70 L480.17,520.08 L480.35,520.69 L480.51,521.41 L480.65,522.31 Z" fill="#c55a11" stroke="#c55a11" stroke-width="0.3" stroke-linejoin="round"/>
<ellipse cx="481.78" cy="522.43" rx="2.10" ry="2.73" fill="#c55a11"/>
<ellipse cx="461.43" cy="599.87" rx="2.10" ry="2.73" fill="#c55a11"/>
<path d="M501.17,520.87 L500.60,519.94 L499.93,519.05 L499.20,518.32 L498.54,517.62 L497.80,517.01 L496.93,516.57 L495.95,516.38 L494.92,516.47 L493.94,516.85 L493.06,517.46 L492.28,518.26 L491.57,519.25 L490.94,520.42 L490.36,521.78 L489.85,523.35 L489.40,525.13 L489.05,527.05 L488.73,529.01 L488.43,531.06 L488.16,533.18 L487.91,535.36 L487.69,537.60 L487.48,539.88 L487.29,542.21 L487.12,544.56 L486.97,546.93 L486.83,549.31 L486.70,551.69 L486.58,554.07 L486.48,556.43 L486.39,558.77 L486.30,561.07 L486.22,563.37 L486.13,565.70 L486.04,568.05 L485.94,570.41 L485.83,572.78 L485.71,575.14 L485.58,577.48 L485.44,579.81 L485.28,582.10 L485.11,584.35 L484.93,586.55 L484.72,588.69 L484.50,590.76 L484.26,592.75 L484.00,594.65 L483.73,596.42 L483.39,597.91 L483.02,599.19 L482.62,600.25 L482.22,601.10 L481.82,601.75 L481.47,602.20 L481.18,602.47 L480.96,602.61 L480.81,602.68 L480.66,602.71 L480.44,602.67 L480.13,602.51 L479.82,602.17 L479.64,601.58 L479.49,600.88 L479.35,599.98 L475.63,601.43 L476.20,602.36 L476.88,603.24 L477.61,603.96 L478.29,604.65 L479.04,605.23 L479.93,605.63 L480.92,605.78 L481.93,605.65 L482.88,605.26 L483.75,604.65 L484.52,603.85 L485.22,602.88 L485.86,601.73 L486.43,600.41 L486.94,598.90 L487.40,597.17 L487.75,595.25 L488.07,593.29 L488.37,591.24 L488.64,589.12 L488.89,586.94 L489.11,584.70 L489.32,582.42 L489.51,580.09 L489.68,577.74 L489.83,575.37 L489.97,572.99 L490.10,570.61 L490.22,568.23 L490.32,565.87 L490.41,563.53 L490.50,561.23 L490.58,558.93 L490.67,556.60 L490.76,554.25 L490.86,551.89 L490.97,549.52 L491.09,547.16 L491.22,544.82 L491.36,542.49 L491.52,540.20 L491.69,537.95 L491.87,535.75 L492.08,533.61 L492.30,531.54 L492.54,529.55 L492.80,527.65 L493.07,525.87 L493.41,524.30 L493.79,522.97 L494.19,521.87 L494.59,521.00 L494.98,520.36 L495.33,519.92 L495.60,519.67 L495.79,519.54 L495.92,519.48 L496.08,519.46 L496.31,519.52 L496.64,519.70 L496.97,520.08 L497.15,520.69 L497.31,521.41 L497.45,522.31 Z" fill="#c55a11" stroke="#c55a11" stroke-width="0.3" stroke-linejoin="round"/>
<ellipse cx="498.58" cy="522.43" rx="2.10" ry="2.73" fill="#c55a11"/>
<ellipse cx="478.23" cy="599.87" rx="2.10" ry="2.73" fill="#c55a11"/>
<text transform="matrix(0.3705 0 0 0.3221 458.30 630.64)" font-size="100" font-style="italic" font-weight="normal" fill="#c55a11" stroke="#c55a11" stroke-width="2.599" stroke-linejoin="round">τ</text>
<text transform="matrix(0.4473 0 0 0.4215 515.61 571.65)" font-size="100" font-style="italic" font-weight="normal" fill="#c55a11" stroke="#c55a11" stroke-width="1.266" stroke-linejoin="round">ρ</text>
<text transform="matrix(0.4693 0 0 0.4081 540.61 570.46)" font-size="100" font-style="normal" font-weight="normal" fill="#c55a11" stroke="#c55a11" stroke-width="2.052" stroke-linejoin="round">(</text>
<text transform="matrix(0.4479 0 0 0.4977 555.21 571.73)" font-size="100" font-style="italic" font-weight="normal" fill="#c55a11" stroke="#c55a11" stroke-width="1.163" stroke-linejoin="round">r</text>
<path d="M561.20,542.70 L571.60,542.70 M568.50,539.60 L572.80,542.70 L568.50,545.80" fill="none" stroke="#c55a11" stroke-width="2.4" stroke-linecap="round" stroke-linejoin="round"/>
<text transform="matrix(0.4432 0 0 0.4711 574.56 568.30)" font-size="100" font-style="normal" font-weight="normal" fill="#c55a11" stroke="#c55a11" stroke-width="1.969" stroke-linejoin="round">,</text>
<text transform="matrix(0.5110 0 0 0.4443 590.87 571.29)" font-size="100" font-style="italic" font-weight="normal" fill="#c55a11" stroke="#c55a11" stroke-width="1.151" stroke-linejoin="round">t</text>
<text transform="matrix(0.4693 0 0 0.4081 609.36 570.46)" font-size="100" font-style="normal" font-weight="normal" fill="#c55a11" stroke="#c55a11" stroke-width="2.052" stroke-linejoin="round">)</text>
<rect x="638.6" y="555.8" width="6.40" height="5.40" fill="#c55a11"/>
<text transform="matrix(0.4859 0 0 0.4225 657.56 571.29)" font-size="100" font-style="italic" font-weight="normal" fill="#c55a11" stroke="#c55a11" stroke-width="1.211" stroke-linejoin="round">d</text>
<text transform="matrix(0.4301 0 0 0.4043 682.33 571.33)" font-size="100" font-style="italic" font-weight="normal" fill="#c55a11" stroke="#c55a11" stroke-width="1.318" stroke-linejoin="round">τ</text>
<rect x="714.4" y="553.4" width="26.00" height="3.40" fill="#c55a11"/>
<rect x="714.4" y="562.3" width="26.00" height="3.40" fill="#c55a11"/>
<text transform="matrix(0.4058 0 0 0.4149 756.85 570.99)" font-size="100" font-style="normal" font-weight="normal" fill="#c55a11" stroke="#c55a11" stroke-width="2.924" stroke-linejoin="round">0</text>
<text transform="matrix(0.4109 0 0 0.4048 869.06 572.58)" font-size="100" font-style="italic" font-weight="normal" fill="#1a38e8" stroke="#1a38e8" stroke-width="1.471" stroke-linejoin="round">d</text>
<text transform="matrix(0.4535 0 0 0.3943 892.63 573.00)" font-size="100" font-style="italic" font-weight="normal" fill="#1a38e8" stroke="#1a38e8" stroke-width="1.415" stroke-linejoin="round">ı</text>
<circle cx="901.5" cy="548.4" r="2.4" fill="#1a38e8"/>
<text transform="matrix(0.4417 0 0 0.3861 908.00 572.62)" font-size="100" font-style="italic" font-weight="normal" fill="#1a38e8" stroke="#1a38e8" stroke-width="1.450" stroke-linejoin="round">v</text>
<text transform="matrix(0.4350 0 0 0.4249 941.20 573.55)" font-size="100" font-style="italic" font-weight="normal" fill="#1a38e8" stroke="#1a38e8" stroke-width="1.396" stroke-linejoin="round">ȷ</text>
<path d="M945.05,545.83 L957.40,545.83 M954.12,542.55 L958.70,545.83 L954.12,549.10" fill="none" stroke="#1a38e8" stroke-width="2.6" stroke-linecap="round" stroke-linejoin="round"/>
<rect x="967.3" y="560.9" width="25.70" height="3.10" fill="#1a38e8"/>
<rect x="978.6" y="550.2" width="3.10" height="24.50" fill="#1a38e8"/>
<text transform="matrix(0.4167 0 0 0.3976 1004.97 541.13)" font-size="100" font-style="italic" font-weight="normal" fill="#1a38e8" stroke="#1a38e8" stroke-width="1.719" stroke-linejoin="round">∂</text>
<text transform="matrix(0.4940 0 0 0.4295 1026.32 541.26)" font-size="100" font-style="italic" font-weight="normal" fill="#1a38e8" stroke="#1a38e8" stroke-width="1.299" stroke-linejoin="round">ρ</text>
<rect x="1003.7" y="561" width="48.10" height="3.10" fill="#1a38e8"/>
<text transform="matrix(0.4334 0 0 0.3990 1008.91 600.32)" font-size="100" font-style="italic" font-weight="normal" fill="#1a38e8" stroke="#1a38e8" stroke-width="1.682" stroke-linejoin="round">∂</text>
<text transform="matrix(0.4779 0 0 0.4155 1030.18 600.49)" font-size="100" font-style="italic" font-weight="normal" fill="#1a38e8" stroke="#1a38e8" stroke-width="1.343" stroke-linejoin="round">t</text>
<rect x="1066.5" y="554.8" width="26.80" height="3.10" fill="#1a38e8"/>
<rect x="1066.5" y="564.7" width="26.80" height="3.10" fill="#1a38e8"/>
<text transform="matrix(0.4129 0 0 0.3972 1106.33 572.51)" font-size="100" font-style="normal" font-weight="normal" fill="#1a38e8" stroke="#1a38e8" stroke-width="2.963" stroke-linejoin="round">0</text>
<path d="M256,627.2 C320,634 390,655 445,639.5" fill="none" stroke="#a6a6a6" stroke-width="4"/>
<polygon points="242.8,626 261.5,618.4 261.5,636.8" fill="#a6a6a6"/>
<polygon points="461.6,635.8 441,631.4 445.3,648.8" fill="#a6a6a6"/>
</svg>
</body></html>
